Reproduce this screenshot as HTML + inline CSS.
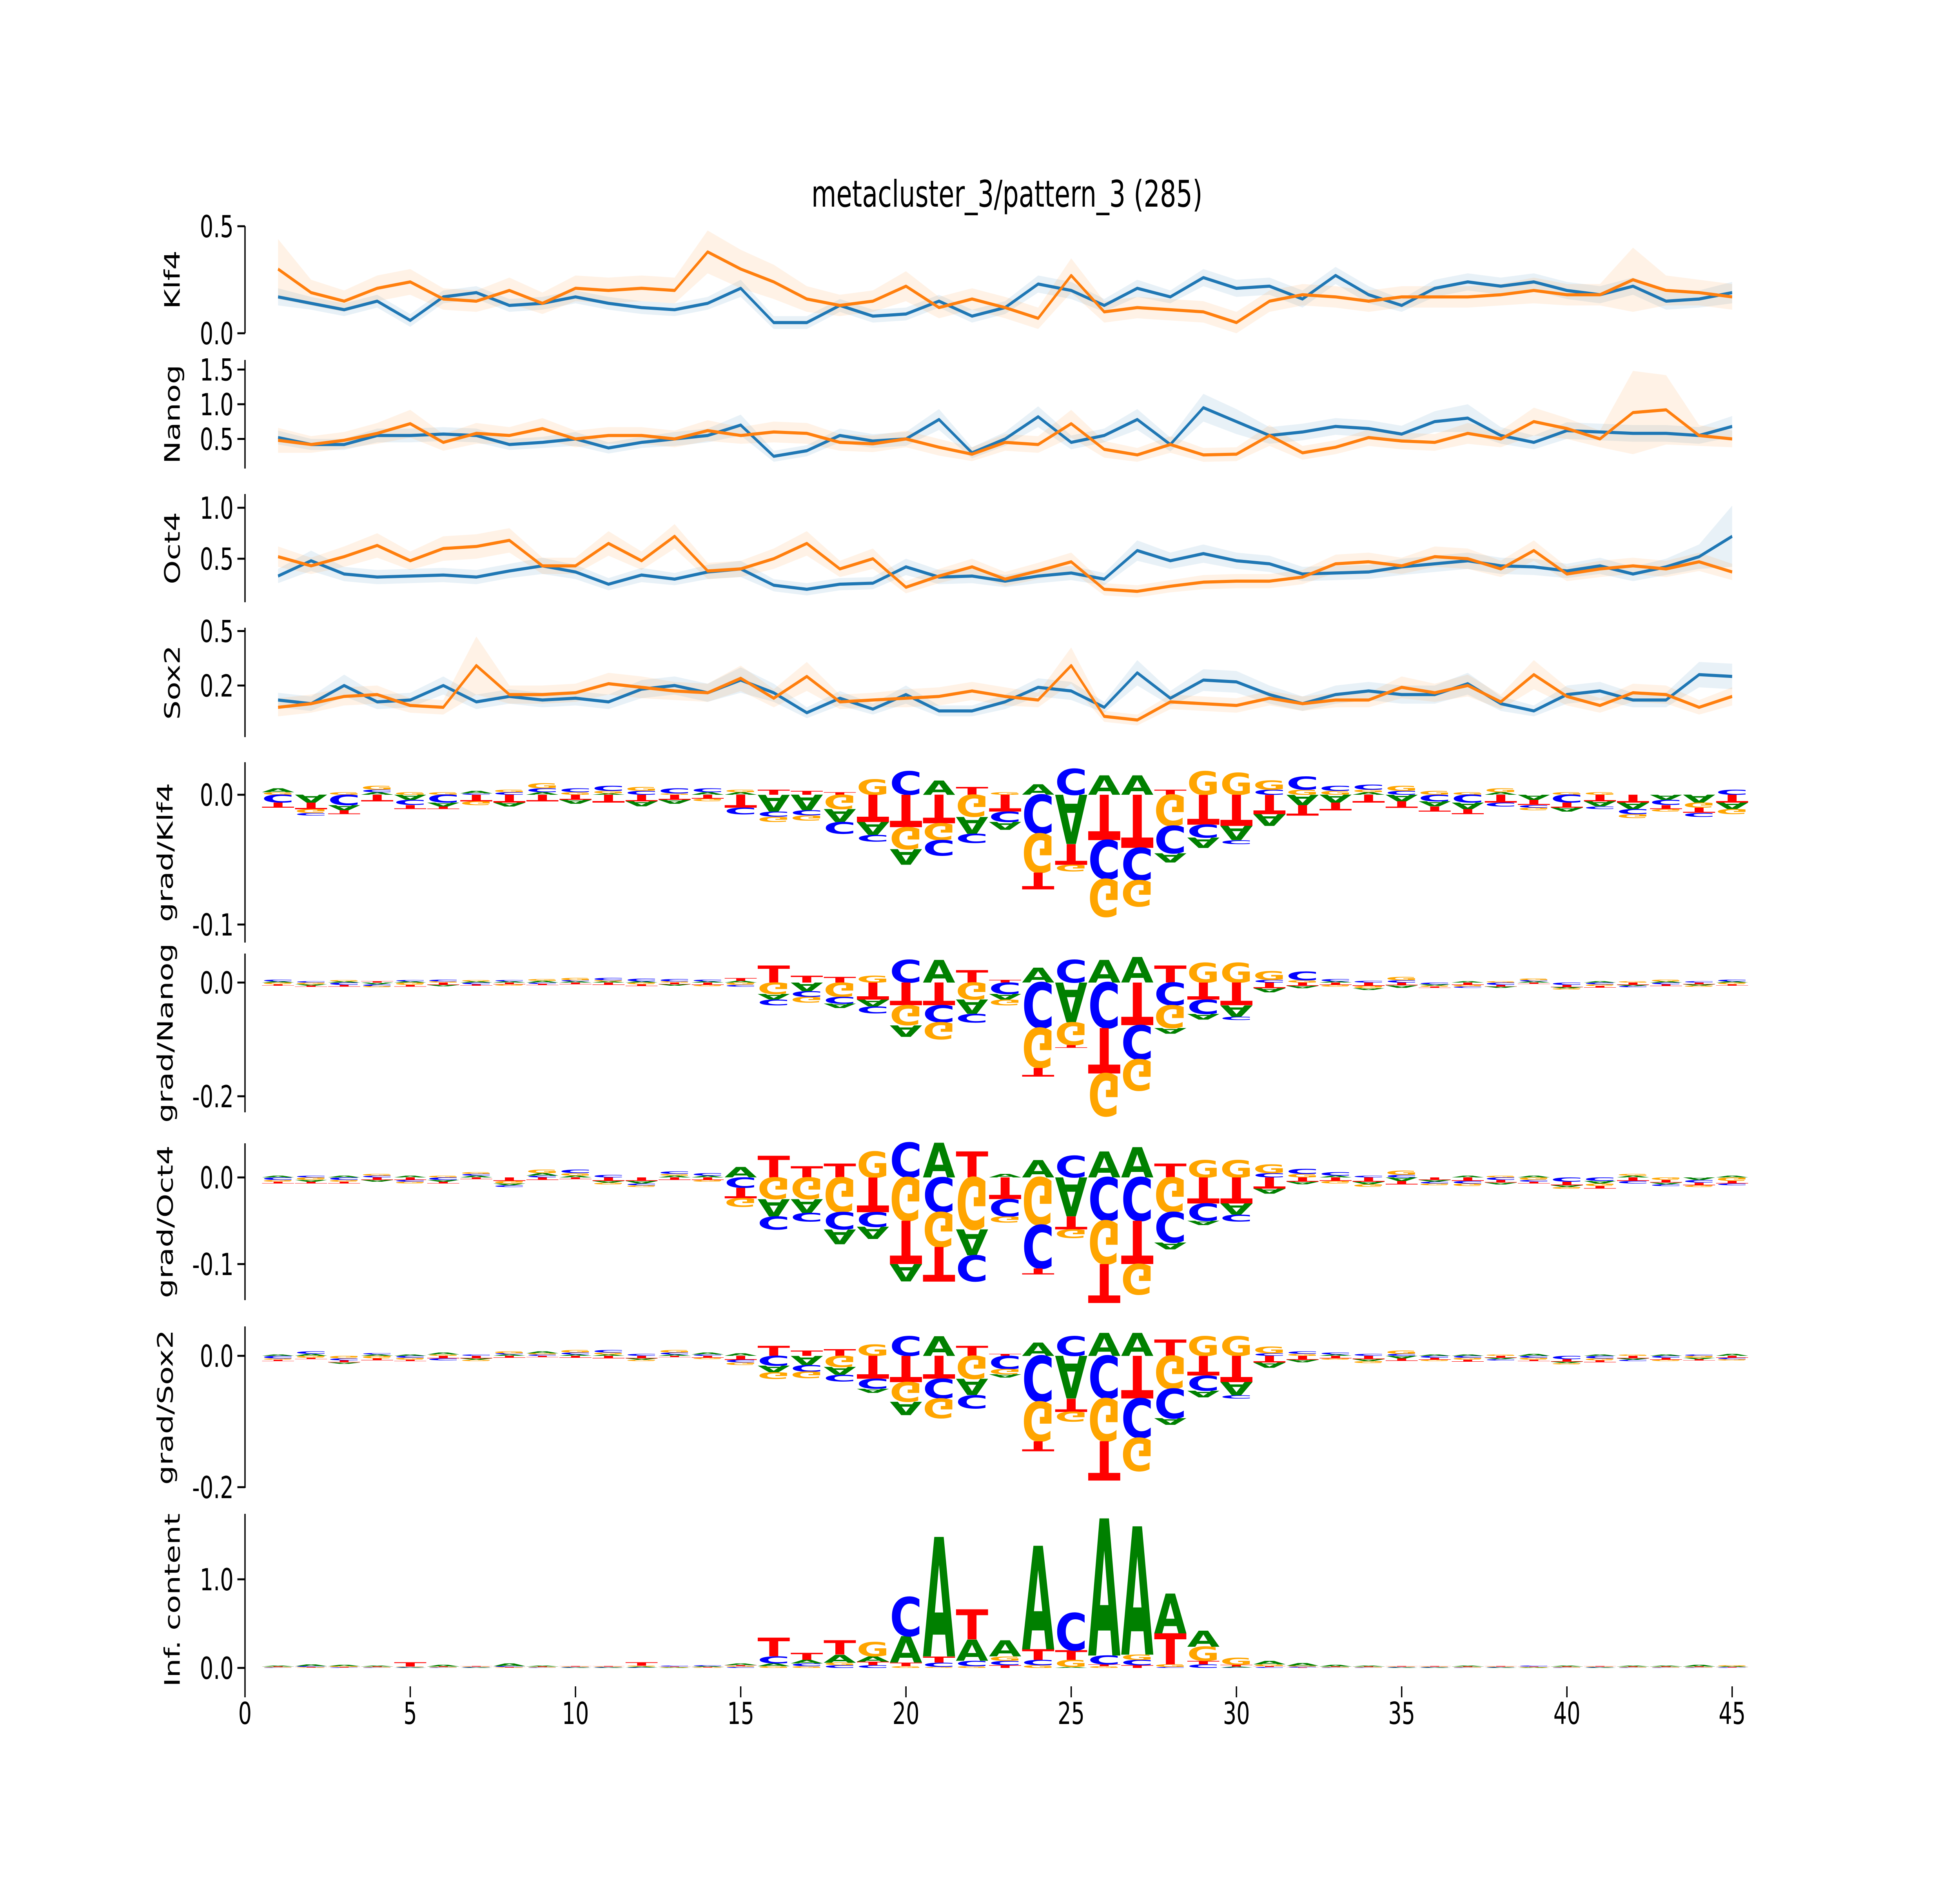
<!DOCTYPE html>
<html><head><meta charset="utf-8"><title>metacluster_3/pattern_3</title>
<style>html,body{margin:0;padding:0;background:#fff;overflow:hidden;width:100%;height:100%;}svg{display:block;width:100vw;height:100vh;}</style></head>
<body>
<svg id="fig" xmlns="http://www.w3.org/2000/svg" viewBox="0 0 7200 4800" preserveAspectRatio="none" font-family="'DejaVu Sans', 'Liberation Sans', sans-serif">
<rect width="7200" height="4800" fill="#fff"/>
<text x="3699" y="527" font-size="94" text-anchor="middle">metacluster_3/pattern_3 (285)</text>
</svg>
<script>
// ---------- data ----------
const positions = [1,2,3,4,5,6,7,8,9,10,11,12,13,14,15,16,17,18,19,20,21,22,23,24,25,26,27,28,29,30,31,32,33,34,35,36,37,38,39,40,41,42,43,44,45];
const xTickLabels = ["0","5","10","15","20","25","30","35","40","45"];

const klf4Blue = [0.17,0.14,0.11,0.15,0.06,0.17,0.19,0.13,0.14,0.17,0.14,0.12,0.11,0.14,0.21,0.05,0.05,0.13,0.08,0.09,0.15,0.08,0.12,0.23,0.20,0.13,0.21,0.17,0.26,0.21,0.22,0.16,0.27,0.18,0.13,0.21,0.24,0.22,0.24,0.20,0.18,0.22,0.15,0.16,0.19];
const klf4Orange = [0.30,0.19,0.15,0.21,0.24,0.16,0.15,0.20,0.14,0.21,0.20,0.21,0.20,0.38,0.30,0.24,0.16,0.13,0.15,0.22,0.12,0.16,0.12,0.07,0.27,0.10,0.12,0.11,0.10,0.05,0.15,0.18,0.17,0.15,0.17,0.17,0.17,0.18,0.20,0.18,0.18,0.25,0.20,0.19,0.17];
const klf4BlueErr = [0.04,0.03,0.03,0.03,0.03,0.03,0.03,0.03,0.03,0.03,0.03,0.03,0.03,0.03,0.04,0.03,0.03,0.03,0.03,0.03,0.03,0.03,0.03,0.04,0.04,0.03,0.04,0.03,0.04,0.04,0.04,0.04,0.04,0.04,0.03,0.04,0.04,0.04,0.04,0.04,0.04,0.04,0.04,0.04,0.05];
const klf4OrangeErr = [0.14,0.06,0.05,0.06,0.06,0.05,0.05,0.06,0.05,0.06,0.06,0.06,0.06,0.10,0.09,0.08,0.06,0.05,0.05,0.07,0.05,0.05,0.05,0.05,0.08,0.05,0.05,0.05,0.05,0.05,0.05,0.05,0.05,0.05,0.05,0.05,0.05,0.05,0.06,0.05,0.05,0.15,0.07,0.06,0.06];

const nanogBlue = [0.52,0.42,0.42,0.55,0.55,0.57,0.55,0.42,0.45,0.50,0.37,0.45,0.50,0.55,0.70,0.25,0.33,0.55,0.47,0.50,0.78,0.30,0.50,0.82,0.45,0.55,0.78,0.42,0.95,0.75,0.55,0.60,0.68,0.65,0.57,0.75,0.80,0.55,0.45,0.62,0.60,0.58,0.58,0.55,0.68];
const nanogOrange = [0.48,0.42,0.48,0.58,0.72,0.45,0.58,0.55,0.65,0.50,0.55,0.55,0.50,0.62,0.55,0.60,0.58,0.45,0.43,0.50,0.38,0.28,0.45,0.42,0.72,0.35,0.27,0.42,0.27,0.28,0.55,0.30,0.38,0.52,0.47,0.45,0.58,0.50,0.75,0.65,0.50,0.88,0.92,0.55,0.50];
const nanogBlueErr = [0.10,0.08,0.08,0.10,0.10,0.10,0.10,0.08,0.08,0.10,0.08,0.08,0.10,0.10,0.15,0.08,0.08,0.10,0.10,0.10,0.15,0.08,0.10,0.15,0.10,0.10,0.15,0.10,0.20,0.18,0.12,0.12,0.12,0.12,0.12,0.15,0.20,0.12,0.10,0.12,0.12,0.12,0.12,0.12,0.15];
const nanogOrangeErr = [0.18,0.12,0.12,0.15,0.20,0.12,0.15,0.12,0.15,0.12,0.12,0.12,0.12,0.15,0.12,0.15,0.15,0.12,0.12,0.12,0.12,0.10,0.12,0.12,0.20,0.12,0.10,0.12,0.10,0.10,0.15,0.10,0.10,0.12,0.12,0.12,0.15,0.12,0.20,0.15,0.12,0.60,0.50,0.15,0.12];

const oct4Blue = [0.33,0.48,0.35,0.32,0.33,0.34,0.32,0.38,0.43,0.37,0.25,0.34,0.30,0.37,0.40,0.24,0.20,0.25,0.26,0.42,0.32,0.33,0.28,0.33,0.36,0.30,0.58,0.48,0.55,0.48,0.45,0.35,0.36,0.37,0.42,0.45,0.48,0.43,0.42,0.38,0.43,0.35,0.42,0.52,0.72];
const oct4Orange = [0.52,0.43,0.52,0.63,0.48,0.60,0.62,0.68,0.43,0.43,0.65,0.48,0.72,0.38,0.40,0.50,0.65,0.40,0.50,0.22,0.33,0.42,0.30,0.38,0.47,0.20,0.18,0.23,0.27,0.28,0.28,0.32,0.45,0.47,0.43,0.52,0.50,0.40,0.58,0.35,0.40,0.43,0.40,0.47,0.37];
const oct4BlueErr = [0.07,0.10,0.07,0.07,0.07,0.07,0.07,0.07,0.08,0.07,0.06,0.07,0.06,0.07,0.08,0.06,0.06,0.06,0.06,0.08,0.07,0.07,0.06,0.07,0.07,0.06,0.10,0.08,0.09,0.08,0.08,0.07,0.07,0.07,0.08,0.08,0.08,0.08,0.08,0.07,0.08,0.07,0.08,0.12,0.30];
const oct4OrangeErr = [0.10,0.08,0.10,0.12,0.09,0.12,0.12,0.12,0.08,0.08,0.12,0.09,0.12,0.08,0.08,0.10,0.12,0.08,0.10,0.06,0.07,0.08,0.07,0.08,0.09,0.06,0.06,0.06,0.07,0.07,0.07,0.07,0.09,0.09,0.08,0.10,0.10,0.08,0.10,0.07,0.08,0.08,0.08,0.09,0.08];

const sox2Blue = [0.12,0.10,0.20,0.11,0.12,0.20,0.11,0.14,0.12,0.13,0.11,0.18,0.20,0.16,0.23,0.16,0.05,0.13,0.07,0.15,0.06,0.06,0.11,0.19,0.17,0.08,0.27,0.13,0.23,0.22,0.15,0.10,0.15,0.17,0.15,0.15,0.21,0.10,0.06,0.15,0.17,0.12,0.12,0.26,0.25];
const sox2Orange = [0.08,0.10,0.14,0.15,0.09,0.08,0.31,0.15,0.15,0.16,0.21,0.19,0.17,0.16,0.24,0.13,0.25,0.11,0.12,0.13,0.14,0.17,0.14,0.12,0.31,0.03,0.01,0.11,0.10,0.09,0.13,0.10,0.12,0.12,0.19,0.16,0.20,0.11,0.26,0.14,0.09,0.16,0.15,0.08,0.14];
const sox2BlueErr = [0.04,0.04,0.06,0.04,0.04,0.05,0.04,0.04,0.04,0.04,0.04,0.05,0.05,0.05,0.07,0.05,0.03,0.04,0.03,0.05,0.03,0.03,0.04,0.05,0.05,0.03,0.07,0.04,0.06,0.06,0.05,0.04,0.05,0.05,0.05,0.05,0.06,0.04,0.03,0.05,0.05,0.04,0.04,0.07,0.07];
const sox2OrangeErr = [0.05,0.05,0.05,0.05,0.04,0.04,0.16,0.05,0.05,0.05,0.06,0.06,0.05,0.05,0.07,0.05,0.08,0.04,0.04,0.05,0.05,0.05,0.05,0.04,0.10,0.03,0.03,0.04,0.04,0.04,0.04,0.04,0.04,0.04,0.06,0.05,0.06,0.04,0.08,0.05,0.04,0.05,0.05,0.04,0.05];

const gradKlf4A = [0.003,-0.006,-0.004,0.002,-0.004,-0.003,0.002,-0.003,0.002,-0.003,0.001,-0.004,-0.003,0.002,0.002,-0.013,-0.012,-0.010,-0.010,-0.012,0.011,-0.013,-0.006,0.008,-0.038,0.015,0.015,-0.007,-0.008,-0.011,-0.009,-0.008,-0.006,0.002,-0.005,-0.004,-0.005,0.002,-0.004,-0.003,-0.004,-0.005,-0.004,-0.006,-0.005];
const gradKlf4C = [-0.006,-0.002,-0.008,0.002,-0.004,-0.006,0.001,0.002,0.003,0.003,0.004,0.003,0.004,0.003,-0.005,-0.004,-0.004,-0.009,-0.005,0.018,-0.012,-0.007,-0.008,-0.030,0.020,-0.030,-0.025,-0.021,-0.010,-0.003,0.004,0.010,0.004,0.004,0.003,-0.005,-0.006,-0.003,-0.002,-0.006,-0.002,-0.004,-0.004,-0.003,0.004];
const gradKlf4G = [0.002,-0.003,0.002,0.003,0.002,0.002,-0.003,0.002,0.004,0.002,0.002,0.003,0.001,-0.002,0.002,-0.004,-0.004,-0.011,0.012,-0.017,-0.013,-0.017,0.002,-0.030,-0.005,-0.029,-0.020,-0.024,0.018,0.017,0.007,0.004,0.003,0.002,0.004,0.003,0.002,0.003,-0.002,0.002,0.002,-0.003,-0.002,-0.004,-0.004];
const gradKlf4T = [-0.004,-0.005,-0.003,-0.005,-0.003,-0.002,-0.005,-0.006,-0.005,-0.004,-0.006,-0.005,-0.004,-0.003,-0.010,0.004,0.003,0.002,-0.021,-0.025,-0.022,0.006,-0.013,-0.013,-0.016,-0.035,-0.041,0.004,-0.023,-0.024,-0.015,-0.008,-0.006,-0.006,-0.005,-0.004,-0.004,-0.006,-0.004,-0.004,-0.005,-0.006,-0.003,-0.004,-0.006];

const gradNanogA = [0.002,-0.002,0.002,-0.003,0.002,-0.002,0.002,0.002,0.003,0.002,0.002,0.002,-0.002,0.002,0.003,-0.010,-0.015,-0.008,-0.012,-0.020,0.040,-0.025,-0.010,0.026,-0.070,0.040,0.045,-0.010,-0.010,-0.020,-0.007,-0.004,0.002,-0.003,-0.004,-0.002,0.002,-0.002,0.002,-0.002,0.002,-0.002,0.002,-0.002,0.002];
const gradNanogC = [0.003,0.002,-0.004,-0.003,0.002,0.003,-0.003,0.002,-0.002,0.002,0.004,0.005,0.004,0.003,-0.003,-0.010,-0.010,-0.012,-0.012,0.040,-0.030,-0.015,-0.020,-0.080,0.040,-0.080,-0.060,-0.040,-0.025,-0.006,0.005,0.015,0.004,0.003,0.004,-0.003,-0.002,-0.004,0.002,-0.004,-0.003,-0.002,-0.003,0.002,0.003];
const gradNanogG = [-0.003,-0.003,0.002,-0.002,-0.004,0.002,0.002,-0.002,0.003,0.004,0.002,-0.003,0.002,-0.002,-0.004,-0.020,-0.010,-0.025,0.012,-0.035,-0.030,-0.030,-0.010,-0.070,-0.040,-0.075,-0.055,-0.040,0.035,0.035,0.015,0.004,-0.003,-0.004,0.006,-0.002,-0.003,0.002,0.003,-0.002,-0.003,0.002,0.003,-0.002,-0.003];
const gradNanogT = [-0.002,-0.002,-0.003,0.002,-0.003,-0.004,-0.002,-0.003,-0.002,-0.003,-0.004,-0.003,-0.003,-0.004,0.005,0.030,0.012,0.010,-0.030,-0.040,-0.040,0.022,0.005,-0.015,-0.005,-0.080,-0.075,0.030,-0.030,-0.040,-0.010,-0.006,-0.004,-0.006,-0.005,-0.002,-0.004,-0.003,-0.002,-0.004,-0.003,-0.004,-0.003,-0.003,-0.002];

const gradOct4A = [0.002,-0.002,0.002,-0.002,0.002,-0.002,0.002,-0.002,0.003,0.002,-0.002,-0.003,0.002,0.002,0.012,-0.020,-0.016,-0.017,-0.014,-0.020,0.040,-0.030,0.004,0.020,-0.045,0.030,0.035,-0.008,-0.005,-0.013,-0.006,-0.003,0.002,-0.003,-0.004,-0.002,0.002,-0.002,0.002,-0.002,-0.003,0.002,-0.002,-0.003,0.002];
const gradOct4C = [-0.003,0.002,-0.003,0.002,-0.002,-0.003,0.002,-0.002,0.002,0.004,0.003,-0.002,0.003,0.003,-0.012,-0.015,-0.010,-0.020,-0.017,0.040,-0.040,-0.030,-0.020,-0.050,0.025,-0.050,-0.050,-0.035,-0.020,-0.008,0.005,0.006,0.004,0.002,0.003,-0.002,-0.003,-0.003,-0.002,-0.005,-0.004,-0.003,-0.002,-0.003,-0.002];
const gradOct4G = [-0.002,-0.003,-0.002,0.002,-0.002,0.002,0.002,-0.003,0.004,0.003,-0.002,-0.002,0.002,-0.002,-0.010,-0.025,-0.025,-0.040,0.030,-0.050,-0.040,-0.060,-0.007,-0.055,-0.010,-0.050,-0.035,-0.040,0.020,0.020,0.010,0.004,-0.003,-0.003,0.005,-0.002,-0.003,0.002,-0.003,-0.002,-0.003,0.002,-0.003,-0.002,-0.004];
const gradOct4T = [-0.002,-0.002,-0.002,-0.003,-0.003,-0.002,-0.002,-0.004,-0.003,-0.002,-0.004,-0.004,-0.003,-0.003,-0.012,0.025,0.013,0.016,-0.040,-0.050,-0.040,0.030,-0.025,-0.007,-0.015,-0.045,-0.050,0.016,-0.030,-0.030,-0.013,-0.005,-0.004,-0.005,-0.004,-0.003,-0.004,-0.003,-0.002,-0.004,-0.003,-0.004,-0.003,-0.003,-0.003];

const gradSox2A = [0.002,0.003,-0.002,0.002,0.002,0.003,-0.002,0.002,0.003,0.002,0.002,-0.002,0.002,0.003,0.004,-0.010,-0.014,-0.012,-0.006,-0.020,0.030,-0.025,-0.005,0.020,-0.065,0.035,0.035,-0.010,-0.010,-0.020,-0.008,-0.004,0.002,-0.003,-0.004,0.002,0.002,-0.002,0.003,-0.002,0.002,-0.002,0.002,-0.002,0.003];
const gradSox2C = [-0.004,0.004,-0.003,0.002,-0.003,-0.003,0.002,0.002,0.002,0.003,0.004,0.003,0.003,0.002,-0.004,-0.015,-0.010,-0.010,-0.015,0.030,-0.030,-0.020,-0.020,-0.070,0.030,-0.065,-0.060,-0.045,-0.023,-0.005,0.004,0.004,0.003,0.003,0.003,-0.003,-0.003,-0.002,-0.003,-0.005,-0.004,-0.002,-0.003,0.002,-0.002];
const gradSox2G = [-0.002,-0.003,-0.004,-0.004,-0.003,0.002,-0.002,0.003,0.002,0.004,0.003,-0.002,0.004,-0.002,-0.004,-0.010,-0.010,-0.017,0.017,-0.030,-0.030,-0.035,-0.008,-0.060,-0.015,-0.065,-0.050,-0.050,0.030,0.030,0.010,0.003,-0.002,-0.003,0.005,-0.002,-0.003,0.002,-0.003,-0.002,-0.003,0.002,-0.002,-0.003,-0.002];
const gradSox2T = [-0.002,-0.002,-0.003,-0.003,-0.002,-0.004,-0.004,-0.003,-0.002,-0.003,-0.004,-0.004,-0.002,-0.003,-0.006,0.015,0.008,0.010,-0.035,-0.040,-0.035,0.015,0.003,-0.015,-0.020,-0.060,-0.065,0.025,-0.030,-0.040,-0.010,-0.006,-0.004,-0.005,-0.004,-0.003,-0.003,-0.003,-0.002,-0.004,-0.003,-0.004,-0.003,-0.002,-0.003];

const infA = [0.01,0.02,0.015,0.01,0.005,0.02,0.005,0.03,0.01,0.005,0.005,0.01,0.005,0.01,0.02,0.03,0.04,0.09,0.06,0.30,1.35,0.24,0.18,1.17,0.01,1.55,1.45,0.45,0.18,0.01,0.04,0.03,0.02,0.01,0.005,0.005,0.01,0.005,0.005,0.01,0.005,0.01,0.01,0.02,0.01];
const infC = [0.005,0.01,0.005,0.005,0.005,0.005,0.005,0.01,0.005,0.005,0.005,0.005,0.01,0.01,0.01,0.08,0.03,0.03,0.03,0.44,0.05,0.06,0.05,0.06,0.42,0.10,0.06,0.01,0.04,0.005,0.01,0.01,0.005,0.005,0.005,0.005,0.005,0.005,0.01,0.005,0.005,0.005,0.005,0.005,0.005];
const infG = [0.005,0.005,0.01,0.005,0.005,0.005,0.005,0.005,0.005,0.005,0.005,0.01,0.005,0.005,0.01,0.02,0.02,0.03,0.16,0.02,0.01,0.02,0.05,0.03,0.08,0.02,0.06,0.03,0.16,0.08,0.02,0.01,0.005,0.005,0.005,0.005,0.005,0.005,0.005,0.005,0.005,0.005,0.005,0.005,0.01];
const infT = [0.005,0.005,0.005,0.005,0.05,0.005,0.005,0.005,0.005,0.005,0.005,0.04,0.005,0.005,0.01,0.21,0.08,0.16,0.04,0.04,0.07,0.34,0.03,0.12,0.11,0.02,0.03,0.35,0.04,0.02,0.01,0.005,0.005,0.005,0.005,0.005,0.005,0.005,0.005,0.005,0.005,0.005,0.005,0.005,0.005];

// ---------- layout ----------
const NS = 'http://www.w3.org/2000/svg';
const svg = document.getElementById('fig');
const X0 = 900, UNIT = 121.4;
function xs(v){ return X0 + v*UNIT; }
const FS = 78;
const COLORS = {A:'#008000', C:'#0000ff', G:'#ffa500', T:'#ff0000'};

function mk(tag, attrs, parent){
  const e = document.createElementNS(NS, tag);
  for (const k in attrs) e.setAttribute(k, attrs[k]);
  (parent||svg).appendChild(e);
  return e;
}

function axis(p){
  const g = mk('g', {});
  
  
  const sp = mk('line', {x1:X0, x2:X0, y1:p.top, y2:p.bottom, stroke:'#000', 'stroke-width':5}, g);
  
  
  p.ticks.forEach((t,i)=>{
    const y = p.zero - t*p.ppu;
    const tl = mk('line', {x1:X0-28, x2:X0, y1:y, y2:y, stroke:'#000', 'stroke-width':5}, g);
    
    
    const tx = mk('text', {x:X0-42, y:y+28, 'font-size':FS, 'text-anchor':'end'}, g);
    tx.textContent = p.tickLabels[i];
    
    
  });
  const cy = (p.top + p.bottom)/2;
  const lab = mk('text', {x:0, y:0, 'font-size':FS, 'text-anchor':'middle', transform:`translate(${p.labelX},${cy}) rotate(-90)`}, g);
  lab.textContent = p.label;
  
  
}

function linePanel(p, series){
  axis(p);
  const y = v => p.zero - v*p.ppu;
  series.forEach(s=>{
    let up = '', dn = '';
    positions.forEach((x,i)=>{ up += (i?'L':'M') + xs(x).toFixed(1) + ',' + y(s.v[i]+s.e[i]).toFixed(1); });
    for (let i=positions.length-1;i>=0;i--){ dn += 'L' + xs(positions[i]).toFixed(1) + ',' + y(s.v[i]-s.e[i]).toFixed(1); }
    const band = mk('path', {d: up+dn+'Z', fill:s.color, 'fill-opacity':0.1, stroke:'none'});
    
    
  });
  series.forEach(s=>{
    let d='';
    positions.forEach((x,i)=>{ d += (i?'L':'M') + xs(x).toFixed(1) + ',' + y(s.v[i]).toFixed(1); });
    const ln = mk('path', {d, fill:'none', stroke:s.color, 'stroke-width':8, 'stroke-linejoin':'round'});
    
    
  });
}

function letter(g, ch, x0, yb, h, flip){
  if (h < 0.5) return;
  const sc = h/73;
  const t = mk('text', {x:0, y:0, 'font-size':100, 'font-weight':'bold', fill:COLORS[ch],
    textLength:UNIT-2, lengthAdjust:'spacingAndGlyphs',
    transform:`translate(${(x0+1).toFixed(1)},${yb.toFixed(1)}) scale(1,${(flip?-sc:sc).toFixed(4)})`}, g);
  t.textContent = ch;
  
  
}

function logoPanel(p, arrs){
  axis(p);
  const g = mk('g', {});
  
  
  positions.forEach((pos,i)=>{
    const x0 = xs(pos - 0.5);
    const items = ['A','C','G','T'].map(ch=>({ch, v:arrs[ch][i]}));
    const pos_ = items.filter(o=>o.v>0).sort((a,b)=>a.v-b.v);
    const neg_ = items.filter(o=>o.v<0).sort((a,b)=>a.v-b.v);
    let yb = p.zero;
    pos_.forEach(o=>{ const h=o.v*p.ppu; letter(g,o.ch,x0,yb,h,false); yb -= h; });
    let yt = p.zero;
    neg_.forEach(o=>{ const h=-o.v*p.ppu; letter(g,o.ch,x0,yt,h,true); yt += h; });
  });
}

const panels = [
  {name:'klf4', label:'Klf4', top:577, bottom:850, zero:850, ppu:546, ticks:[0.5,0.0], tickLabels:['0.5','0.0'], labelX:660},
  {name:'nanog', label:'Nanog', top:918, bottom:1195, zero:1208, ppu:177, ticks:[1.5,1.0,0.5], tickLabels:['1.5','1.0','0.5'], labelX:660},
  {name:'oct4', label:'Oct4', top:1260, bottom:1536, zero:1555, ppu:260, ticks:[1.0,0.5], tickLabels:['1.0','0.5'], labelX:660},
  {name:'sox2', label:'Sox2', top:1601, bottom:1880, zero:1841, ppu:463, ticks:[0.5,0.2], tickLabels:['0.5','0.2'], labelX:660},
  {name:'grad-klf4', label:'grad/Klf4', top:1944, bottom:2404, zero:2027, ppu:3310, ticks:[0.0,-0.1], tickLabels:['0.0','-0.1'], labelX:634},
  {name:'grad-nanog', label:'grad/Nanog', top:2432, bottom:2837, zero:2506, ppu:1450, ticks:[0.0,-0.2], tickLabels:['0.0','-0.2'], labelX:634},
  {name:'grad-oct4', label:'grad/Oct4', top:2916, bottom:3316, zero:3003, ppu:2210, ticks:[0.0,-0.1], tickLabels:['0.0','-0.1'], labelX:634},
  {name:'grad-sox2', label:'grad/Sox2', top:3383, bottom:3795, zero:3458, ppu:1675, ticks:[0.0,-0.2], tickLabels:['0.0','-0.2'], labelX:634},
  {name:'inf-content', label:'Inf. content', top:3861, bottom:4301, zero:4254, ppu:226, ticks:[1.0,0.0], tickLabels:['1.0','0.0'], labelX:660}
];

linePanel(panels[0], [{key:'blue', color:'#1f77b4', v:klf4Blue, e:klf4BlueErr},{key:'orange', color:'#ff7f0e', v:klf4Orange, e:klf4OrangeErr}]);
linePanel(panels[1], [{key:'blue', color:'#1f77b4', v:nanogBlue, e:nanogBlueErr},{key:'orange', color:'#ff7f0e', v:nanogOrange, e:nanogOrangeErr}]);
linePanel(panels[2], [{key:'blue', color:'#1f77b4', v:oct4Blue, e:oct4BlueErr},{key:'orange', color:'#ff7f0e', v:oct4Orange, e:oct4OrangeErr}]);
linePanel(panels[3], [{key:'blue', color:'#1f77b4', v:sox2Blue, e:sox2BlueErr},{key:'orange', color:'#ff7f0e', v:sox2Orange, e:sox2OrangeErr}]);
logoPanel(panels[4], {A:gradKlf4A, C:gradKlf4C, G:gradKlf4G, T:gradKlf4T});
logoPanel(panels[5], {A:gradNanogA, C:gradNanogC, G:gradNanogG, T:gradNanogT});
logoPanel(panels[6], {A:gradOct4A, C:gradOct4C, G:gradOct4G, T:gradOct4T});
logoPanel(panels[7], {A:gradSox2A, C:gradSox2C, G:gradSox2G, T:gradSox2T});
logoPanel(panels[8], {A:infA, C:infC, G:infG, T:infT});

// x axis (bottom panel)
const xg = mk('g', {});


xTickLabels.forEach(lbl=>{
  const x = xs(parseFloat(lbl));
  const tk = mk('line', {x1:x, x2:x, y1:4301, y2:4329, stroke:'#000', 'stroke-width':5}, xg);
  
  
  const tx = mk('text', {x:x, y:4397, 'font-size':FS, 'text-anchor':'middle'}, xg);
  tx.textContent = lbl;
  
  
});
</script>
</body></html>
